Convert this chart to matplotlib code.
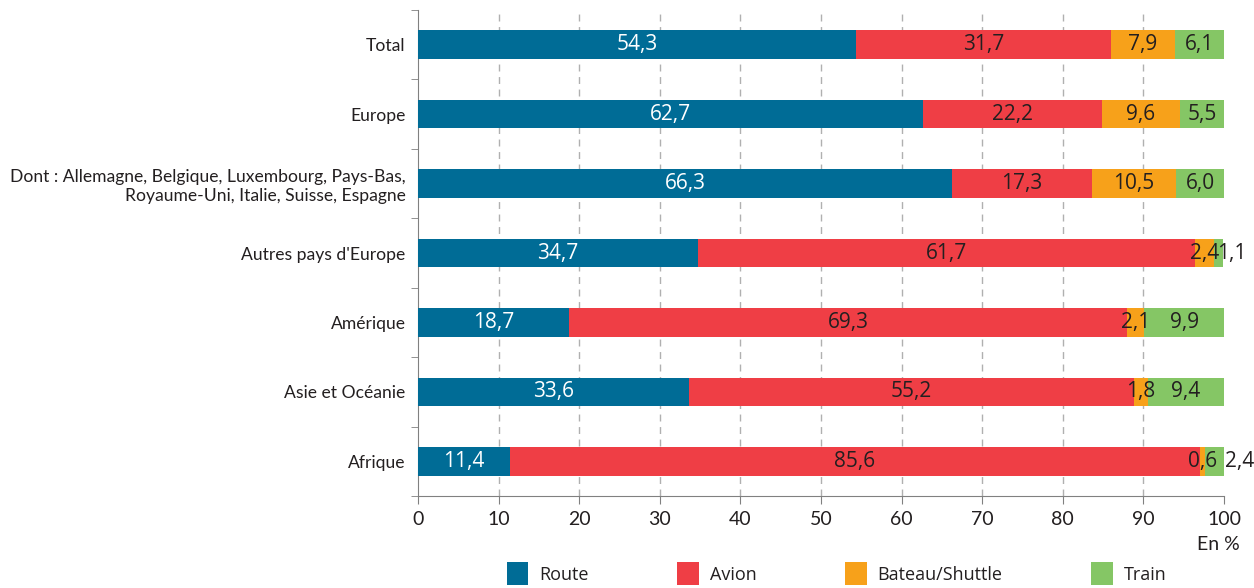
import matplotlib
matplotlib.use("Agg")
import matplotlib.pyplot as plt
import numpy as np

# categories, top to bottom
categories = ["Total", "Europe",
              "Dont : Allemagne, Belgique, Luxembourg, Pays-Bas,\nRoyaume-Uni, Italie, Suisse, Espagne",
              "Autres pays d'Europe", "Amérique", "Asie et Océanie", "Afrique"]
route = [54.3, 62.7, 66.3, 34.7, 18.7, 33.6, 11.4]
avion = [31.7, 22.2, 17.3, 61.7, 69.3, 55.2, 85.6]
bateau = [7.9, 9.6, 10.5, 2.4, 2.1, 1.8, 0.6]
train = [6.1, 5.5, 6.0, 1.1, 9.9, 9.4, 2.4]
series = ["Route", "Avion", "Bateau/Shuttle", "Train"]
colors = ["#006c96", "#ef3e45", "#f7a11a", "#85c665"]
text_colors = ["white", "#231f20", "#231f20", "#231f20"]

plt.rcParams['font.family'] = ['Open Sans', 'DejaVu Sans']
narrow = ['Lato', 'DejaVu Sans']

fig = plt.figure(figsize=(12.54, 5.88), dpi=100)
ax = fig.add_axes([418/1254, 1-496/588, 806/1254, 486/588])

y = np.arange(len(categories))
left = np.zeros(len(categories))
# label offsets (points) for tiny segments that would overlap
offsets = {(3, 3): 9, (6, 3): 18}
for s, (name, vals) in enumerate(zip(series, [route, avion, bateau, train])):
    vals = np.array(vals)
    ax.barh(y, vals, left=left, height=0.41, color=colors[s], label=name,
            edgecolor="none", zorder=3)
    for i, v in enumerate(vals):
        cx = left[i] + v / 2
        ax.annotate(f"{v:.1f}".replace(".", ","), (cx, y[i]),
                    xytext=(offsets.get((i, s), 0), 0), textcoords="offset points",
                    ha="center", va="center", fontsize=15, color=text_colors[s],
                    zorder=4)
    left += vals

ax.set_xlim(0, 100)
ax.set_ylim(len(categories) - 0.5, -0.5)
ax.set_xticks(np.arange(0, 101, 10))
ax.tick_params(axis="x", labelsize=14, length=6, color="#808080", pad=5)
ax.set_yticks(y)
ax.set_yticklabels(categories, fontsize=12.6, family=narrow, color="#231f20")
for lab in ax.get_xticklabels():
    lab.set_family(narrow)
    lab.set_color("#231f20")
ax.tick_params(axis="y", which="major", length=0, pad=9)
ax.set_yticks(np.arange(-0.5, len(categories), 1), minor=True)
ax.tick_params(axis="y", which="minor", length=5, color="#808080")
for lab in ax.get_yticklabels():
    lab.set_multialignment("right")

for xv in range(10, 100, 10):
    ax.axvline(xv, color="#b0b0b0", linestyle=(0, (5, 4)), linewidth=1, zorder=1)

for sp in ["top", "right"]:
    ax.spines[sp].set_visible(False)
for sp in ["left", "bottom"]:
    ax.spines[sp].set_color("#808080")

fig.text(1240/1254, 1-545/588, "En %", ha="right", va="center", fontsize=14,
         family=narrow, color="#231f20")

fig.legend(loc="upper center", bbox_to_anchor=(0.667, 1-546/588), ncol=4,
           frameon=False, fontsize=13, handlelength=1.2, handleheight=1.6,
           columnspacing=4.9, handletextpad=0.6, labelcolor="#231f20")

fig.savefig("out.png", dpi=100)
